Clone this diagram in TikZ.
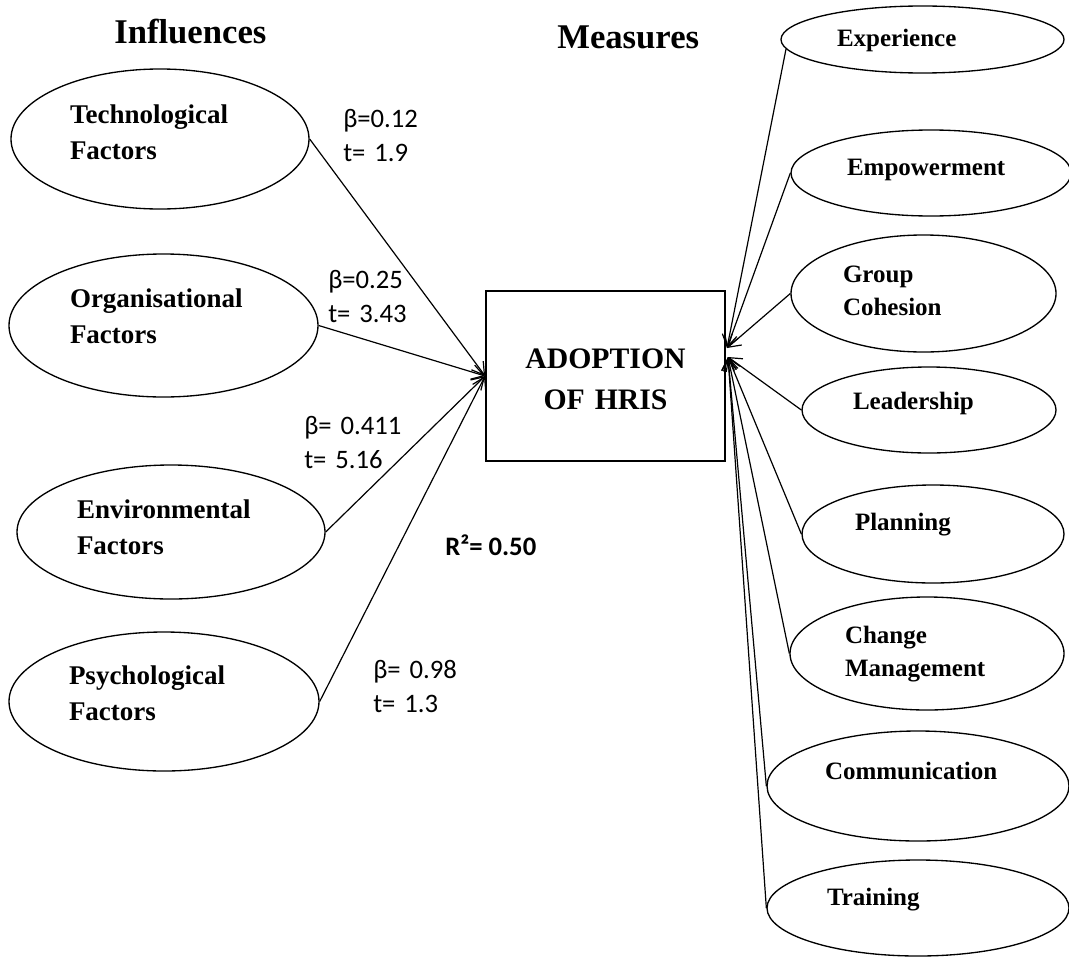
\documentclass[tikz,border=0pt]{standalone}
\usepackage{fontspec}
\setmainfont{Liberation Serif}
\newfontfamily\calfont{Carlito}
\usetikzlibrary{shapes.geometric,arrows.meta}
\tikzset{
  ell/.style={draw, ellipse, line width=1pt, inner sep=0pt, align=left,
    font=\bfseries\fontsize{20.25}{27}\selectfont},
  rell/.style={ell, font=\bfseries\fontsize{18.75}{25}\selectfont},
  coef/.style={anchor=base west, inner sep=0pt, text width=90pt, align=left,
    font=\calfont\fontsize{20}{25.5}\selectfont},
  rsq/.style={anchor=base west, inner sep=0pt, font=\calfont\bfseries\fontsize{20}{25.5}\selectfont},
  link/.style={line width=0.9pt, -{Straight Barb[length=9pt,width=11pt]}},
  title/.style={anchor=base west, inner sep=0pt, font=\bfseries\fontsize{26}{30}\selectfont},
  hub/.style={draw, rectangle, line width=1.3pt, inner sep=0pt, align=center,
    font=\bfseries\fontsize{22.3}{30.75}\selectfont},
}
\begin{document}
\begin{tikzpicture}[x=0.75pt,y=-0.75pt]
\clip (0,0) rectangle (1069,956);
\fill[white] (0,0) rectangle (1069,956);

% titles
\node[title] (tinf) at (114,44) {Influences};
\node[title] (tmea) at (557,49) {Measures};

% central box
\node[hub, minimum width=179.25pt, minimum height=127.5pt, text width=150pt,
      text height=0pt, text depth=12pt] (box) at (605.5,376) {ADOPTION\\OF HRIS};

% influences
\node[ell, minimum width=223.5pt, minimum height=105pt, text width=135pt,
      text height=0pt, text depth=24pt] (tech) at (160,139) {Technological\\Factors};
\node[ell, minimum width=231.75pt, minimum height=107.25pt, text width=140.25pt,
      text height=0pt, text depth=27.75pt] (org) at (163.5,325.5) {Organisational\\Factors};
\node[ell, minimum width=231pt, minimum height=100.5pt, text width=141pt,
      text height=0pt, text depth=21pt] (env) at (171,532) {Environmental\\Factors};
\node[ell, minimum width=232.5pt, minimum height=104.25pt, text width=142.5pt,
      text height=0pt, text depth=26.25pt] (psy) at (164,701.5) {Psychological\\Factors};

% measures
\node[rell, minimum width=212.25pt, minimum height=50.25pt, text width=128.25pt,
      text height=11.25pt, text depth=0pt] (exp) at (922.5,39.5) {Experience};
\node[rell, minimum width=210pt, minimum height=64.5pt, text width=126pt,
      text height=3pt, text depth=0pt] (emp) at (931,173) {Empowerment};
\node[rell, minimum width=198.75pt, minimum height=87.75pt, text width=120.75pt,
      text height=0pt, text depth=17.25pt] (grp) at (923.5,293.5) {Group\\Cohesion};
\node[rell, minimum width=190.5pt, minimum height=64.5pt, text width=114pt,
      text height=0pt, text depth=1.5pt] (lead) at (929,410) {Leadership};
\node[rell, minimum width=196.5pt, minimum height=73.5pt, text width=117pt,
      text height=0pt, text depth=6pt] (plan) at (933,534) {Planning};
\node[rell, minimum width=205.5pt, minimum height=84.75pt, text width=123pt,
      text height=0pt, text depth=15.75pt] (chg) at (927,653.5) {Change\\Management};
\node[rell, minimum width=226.5pt, minimum height=82.5pt, text width=139.5pt,
      text height=0pt, text depth=10.5pt] (comm) at (918,786) {Communication};
\node[rell, minimum width=226.5pt, minimum height=72pt, text width=136.5pt,
      text height=0pt, text depth=4.5pt] (train) at (918,908) {Training};

% coefficients
\node[coef] (c1) at (343,127) {β=0.12\\t= 1.9};
\node[coef] (c2) at (328,288) {β=0.25\\t= 3.43};
\node[coef] (c3) at (304,434) {β= 0.411\\t= 5.16};
\node[coef] (c4) at (373,678) {β= 0.98\\t= 1.3};
\node[rsq] (r2lab) at (445,555) {R²= 0.50};

% convergence points on the right side of the box
\coordinate (rA) at (727,348);
\coordinate (rB) at (728,357);

% influence connectors
\draw[link] (tech.east) -- (box.west);
\draw[link] (org.east) -- (box.west);
\draw[link] (env.east) -- (box.west);
\draw[link] (psy.east) -- (box.west);

% measure connectors
\draw[link] (exp.184) -- (rA);
\draw[link] (emp.west) -- (rA);
\draw[link] (grp.west) -- (rA);
\draw[link] (lead.west) -- (rB);
\draw[link] (plan.west) -- (rB);
\draw[link] (chg.west) -- (rB);
\draw[link] (comm.west) -- (rB);
\draw[link] (train.west) -- (rB);
\end{tikzpicture}
\end{document}
